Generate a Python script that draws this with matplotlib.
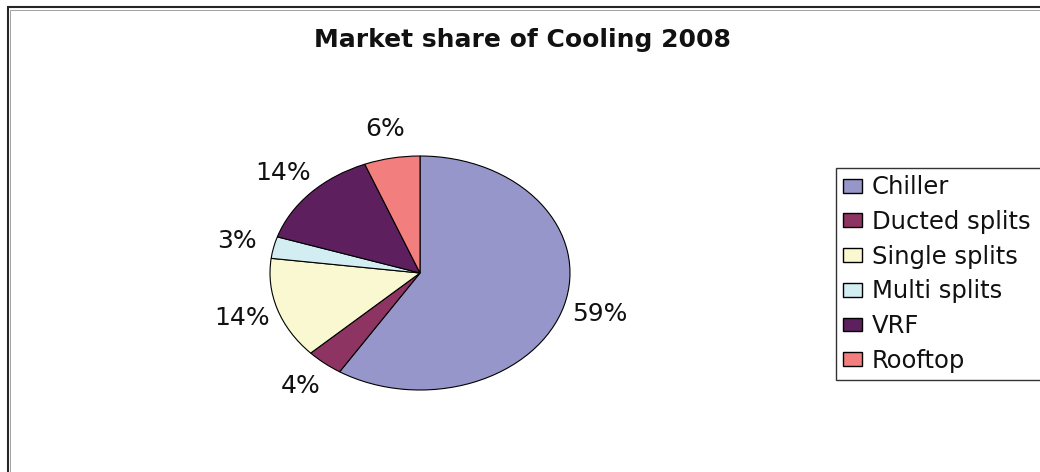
import matplotlib
matplotlib.use("Agg")
import matplotlib.pyplot as plt
from matplotlib.patches import Rectangle, Patch

# Market share data
categories = ["Chiller", "Ducted splits", "Single splits", "Multi splits", "VRF", "Rooftop"]
shares = [59, 4, 14, 3, 14, 6]
colors = ["#9696CA", "#8E3462", "#FAF8D0", "#D3EEF3", "#5E1F5F", "#F27F7D"]
title = "Market share of Cooling 2008"

W, H, DPI = 1040, 472, 100
plt.rcParams["font.family"] = ["DejaVu Sans"]

fig = plt.figure(figsize=(W / DPI, H / DPI), dpi=DPI)
fig.patch.set_facecolor("white")

# outer chart frame (double line, running off the right and bottom edges)
fig.add_artist(Rectangle((7.5 / W, -0.1), 1.2, 1.1 - 7.5 / H,
                         transform=fig.transFigure, fill=False,
                         edgecolor="#262626", linewidth=1.5))
fig.add_artist(Rectangle((10 / W, -0.1), 1.2, 1.1 - 10 / H,
                         transform=fig.transFigure, fill=False,
                         edgecolor="#a0a0a0", linewidth=0.7))

# pie occupies a stretched (elliptical) area
ax = fig.add_axes([270 / W, 82 / H, 300 / W, 234 / H])
wedges, texts, autotexts = ax.pie(
    shares, colors=colors, startangle=90, counterclock=False,
    autopct=lambda p: f"{round(p)}%", pctdistance=1.25,
    wedgeprops=dict(edgecolor="black", linewidth=0.8),
    textprops=dict(fontsize=18, color="#111111"),
)
ax.set_aspect("auto")
ax.set_xlim(-1, 1)
ax.set_ylim(-1, 1)
ax.axis("off")

fig.text(522 / W, 1 - 40 / H, title, ha="center", va="center",
         fontsize=18, fontweight="bold", color="#111111")

# legend box runs past the right edge of the figure
handles = [Patch(facecolor=c, edgecolor="black", linewidth=1.0) for c in colors]
leg = fig.legend(handles, categories, loc="upper left", mode="expand",
                 bbox_to_anchor=(836 / W, 1 - 168 / H - 0.5, 230 / W, 0.5),
                 bbox_transform=fig.transFigure, borderaxespad=0,
                 fontsize=17.5, frameon=True, fancybox=False, shadow=False,
                 handlelength=0.78, handleheight=0.5, handletextpad=0.4,
                 labelspacing=0.44, borderpad=0.3)
leg.get_frame().set_edgecolor("black")
leg.get_frame().set_linewidth(1.0)
for t in leg.get_texts():
    t.set_color("#111111")

fig.savefig("out.png", dpi=DPI, facecolor="white")
